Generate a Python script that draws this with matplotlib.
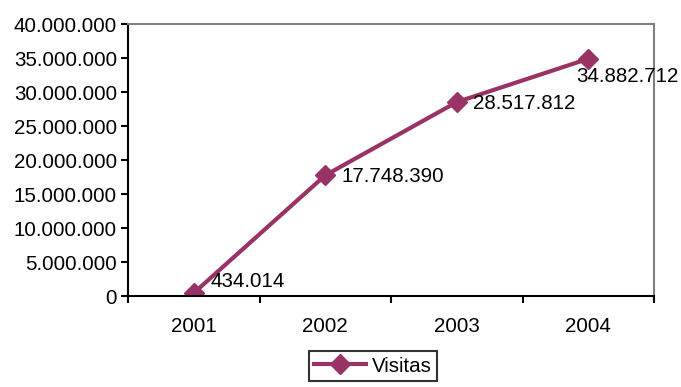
import matplotlib
matplotlib.use("Agg")
import matplotlib.pyplot as plt
from matplotlib.ticker import FuncFormatter, MultipleLocator

years = ["2001", "2002", "2003", "2004"]
visitas = [434014, 17748390, 28517812, 34882712]
series_name = "Visitas"

plt.rcParams['font.family'] = ['Liberation Sans', 'DejaVu Sans']
color = "#993366"
fs = 14.8

fig = plt.figure(figsize=(6.81, 3.87), dpi=100)
ax = fig.add_axes([128/681, 1-296/387, (654-128)/681, (296-24)/387])

xs = list(range(len(years)))
line, = ax.plot(xs, visitas, color=color, lw=3, marker='D', markersize=10,
                label=series_name, solid_joinstyle='miter')

def fmt(v):
    return f"{int(round(v)):,}".replace(",", ".")

offsets = [(12, 8), (12, -1), (12, -1), (-9, -13)]
for x, v, off in zip(xs, visitas, offsets):
    ax.annotate(fmt(v), (x, v), xytext=off, textcoords='offset points',
                fontsize=fs, va='center', ha='left')

ax.set_xlim(-0.5, len(years) - 0.5)
ax.set_ylim(0, 40000000)
ax.yaxis.set_major_locator(MultipleLocator(5000000))
ax.yaxis.set_major_formatter(FuncFormatter(lambda v, p: fmt(v)))
ax.set_xticks(xs)
ax.set_xticklabels(years)
ax.set_xticks([i - 0.5 for i in range(len(years) + 1)], minor=True)
ax.tick_params(axis='x', which='major', length=0, labelsize=fs, pad=15)
ax.tick_params(axis='x', which='minor', length=5, width=1.5, direction='out')
ax.tick_params(axis='y', length=5, width=1.5, direction='out', labelsize=fs, pad=3)

for s in ['left', 'bottom']:
    ax.spines[s].set_color('black')
    ax.spines[s].set_linewidth(1.5)
for s in ['top', 'right']:
    ax.spines[s].set_color('#808080')
    ax.spines[s].set_linewidth(1.5)

leg = fig.legend(handles=[line], loc='center', bbox_to_anchor=(373/681, 1-366/387),
                 fontsize=fs, frameon=True, fancybox=False, edgecolor='black',
                 handlelength=2.5, borderpad=0.25, handletextpad=0.3)
leg.get_frame().set_linewidth(1.5)

fig.savefig("out.png", dpi=100)
